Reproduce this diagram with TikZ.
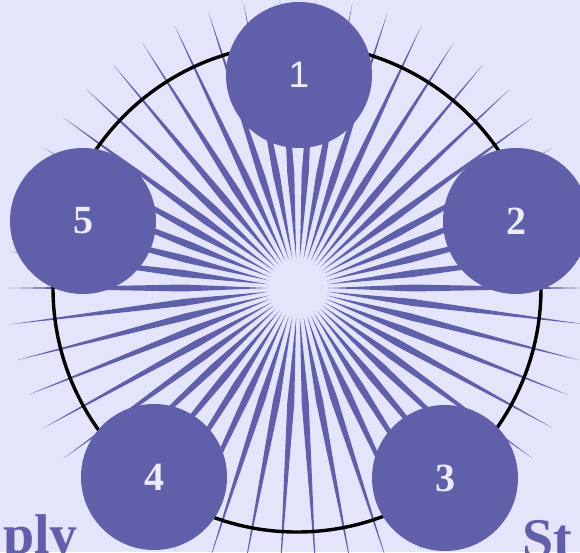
\documentclass[tikz,border=0pt]{standalone}
\usepackage{fontspec}
\setmainfont{Liberation Serif}
\newfontfamily\arialf{Liberation Sans}
\definecolor{bgc}{RGB}{228,228,250}
\definecolor{vio}{RGB}{95,95,170}
\definecolor{txt}{RGB}{236,236,252}
\tikzset{
  numdisc/.style={circle, fill=vio, minimum size=146pt, inner sep=0pt, text=txt,
    font=\fontsize{40}{40}\selectfont\bfseries},
  raystyle/.style={fill=vio},
  bigtext/.style={inner sep=0pt, text=vio, font=\fontsize{56}{56}\selectfont\bfseries}
}
\begin{document}
\begin{tikzpicture}[x=1pt,y=-1pt]
\fill[bgc] (0,0) rectangle (580,552);
\useasboundingbox (0,0) rectangle (580,552);
\clip (0,0) rectangle (580,552);
\coordinate (c) at (298,288);
\begin{scope}[shift={(c)}]
  \foreach \a in {0,7.2,...,359}
    \fill[raystyle, rotate=\a] (30,0) -- (115,3.5) -- (290,0) -- (115,-3.5) -- cycle;
\end{scope}
\draw[line width=3.4pt, black] (297,288) circle (244);
\node[numdisc, font=\fontsize{37}{37}\selectfont\arialf] (n1) at (299,75) {1};
\node[numdisc] (n2) at (516,221) {2};
\node[numdisc] (n3) at (445,478) {3};
\node[numdisc] (n4) at (154,477) {4};
\node[numdisc] (n5) at (83,221) {5};
\node[bigtext, anchor=base east] (tl) at (78,553) {ply};
\node[bigtext, anchor=base west] (tr) at (522,557) {St};
\end{tikzpicture}
\end{document}
